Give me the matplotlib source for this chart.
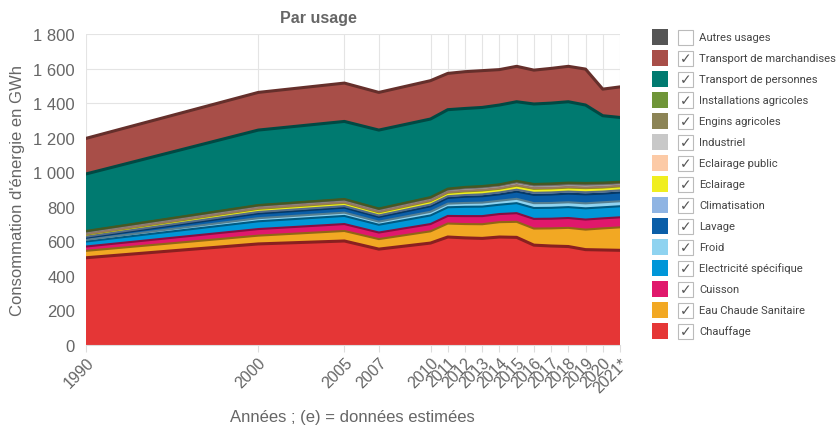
import matplotlib.pyplot as plt
import matplotlib.colors as mcolors
from matplotlib.patches import Rectangle
from matplotlib.ticker import FuncFormatter

plt.rcParams['font.family'] = ['Liberation Sans', 'DejaVu Sans']

years = [1990, 2000, 2005, 2007, 2010, 2011, 2012, 2013, 2014, 2015, 2016, 2017, 2018, 2019, 2020, 2021]
year_labels = ['1990', '2000', '2005', '2007', '2010', '2011', '2012', '2013', '2014', '2015',
               '2016', '2017', '2018', '2019', '2020', '2021*']

# stacked from bottom to top
chauffage = [505, 585, 602, 555, 590, 625, 620, 617, 625, 623, 578, 573, 570, 552, 550, 548]
ecs = [40, 48, 58, 58, 68, 78, 80, 82, 86, 90, 96, 102, 108, 116, 125, 133]
cuisson = [25, 38, 40, 38, 42, 44, 46, 47, 47, 50, 56, 56, 57, 58, 58, 58]
elec_specifique = [29, 45, 47, 45, 50, 50, 54, 55, 54, 58, 63, 63, 63, 65, 64, 64]
froid = [10, 18, 19, 18, 21, 21, 22, 23, 23, 25, 28, 28, 28, 29, 29, 29]
lavage = [12, 27, 29, 27, 32, 33, 36, 37, 37, 42, 48, 49, 50, 52, 50, 51]
climatisation = [6, 9, 9, 9, 10, 10, 10, 11, 11, 11, 12, 12, 12, 12, 12, 12]
eclairage = [12, 18, 19, 18, 20, 20, 21, 22, 21, 23, 23, 23, 23, 24, 23, 23]
eclairage_public = [4, 4, 4, 4, 4, 4, 4, 4, 4, 4, 4, 4, 4, 4, 4, 4]
industriel = [10, 11, 11, 11, 11, 12, 13, 13, 13, 14, 14, 14, 14, 15, 14, 13]
engins_agricoles = [5, 5, 5, 5, 5, 5, 6, 6, 6, 7, 7, 7, 7, 7, 7, 6]
install_agricoles = [2, 2, 2, 2, 3, 3, 3, 3, 3, 3, 3, 4, 4, 4, 4, 4]
transport_personnes = [330, 434, 449, 454, 452, 457, 454, 455, 459, 458, 463, 465, 468, 451, 387, 372]
transport_marchandises = [206, 218, 222, 218, 222, 210, 213, 213, 205, 205, 196, 201, 205, 208, 154, 177]

series = [chauffage, ecs, cuisson, elec_specifique, froid, lavage, climatisation, eclairage,
          eclairage_public, industriel, engins_agricoles, install_agricoles,
          transport_personnes, transport_marchandises]
colors = ['#e53636', '#f2a823', '#e0186c', '#0096d8', '#8fd3f0', '#0a5ea8', '#8fb4e3', '#f0ee20',
          '#fccaa6', '#c8c8c8', '#8c8456', '#6f9538', '#007a70', '#a84e48']

# legend order (top to bottom)
legend_labels = ['Autres usages', 'Transport de marchandises', 'Transport de personnes',
                 'Installations agricoles', 'Engins agricoles', 'Industriel', 'Eclairage public',
                 'Eclairage', 'Climatisation', 'Lavage', 'Froid', 'Electricité spécifique',
                 'Cuisson', 'Eau Chaude Sanitaire', 'Chauffage']
legend_colors = ['#555555'] + colors[::-1]
legend_checked = [False] + [True] * 14

fig = plt.figure(figsize=(8.4, 4.27), dpi=100)
ax = fig.add_axes([0.1024, 0.1897, 0.6357, 0.7283])

ax.stackplot(years, *series, colors=colors, linewidth=0)

# darker outline on top of each layer
top = [0] * len(years)
for i, (s, c) in enumerate(zip(series, colors)):
    top = [a + b for a, b in zip(top, s)]
    dark = tuple(v * 0.6 for v in mcolors.to_rgb(c))
    lw = 2.2 if i in (0, 12, 13) else 1.5
    ax.plot(years, top, color=dark, lw=lw, solid_joinstyle='round')

ax.set_xlim(1990, 2021)
ax.set_ylim(0, 1800)
ax.set_xticks(years)
ax.set_xticklabels(year_labels, rotation=45, ha='right', rotation_mode='anchor',
                   fontsize=11.5, color='#666666')
ax.set_yticks(range(0, 1801, 200))
ax.yaxis.set_major_formatter(FuncFormatter(lambda v, p: f'{int(v):,}'.replace(',', ' ')))
ax.tick_params(axis='y', length=0, labelsize=12, labelcolor='#666666', pad=8)
ax.tick_params(axis='x', length=5, color='#dddddd', pad=2)
ax.grid(True, color='#e4e4e4', lw=0.8)
ax.set_axisbelow(True)
for side in ['left', 'right', 'top']:
    ax.spines[side].set_visible(False)
ax.spines['bottom'].set_color('#dddddd')

ax.set_ylabel("Consommation d'énergie en GWh", fontsize=12, color='#666666', labelpad=6)
fig.text(352 / 840, 1 - 418 / 427, 'Années ; (e) = données estimées', ha='center', va='center',
         fontsize=12, color='#666666')
fig.text(318 / 840, 1 - 18 / 427, 'Par usage', ha='center', va='center', fontsize=11.5,
         fontweight='bold', color='#666666')

# custom legend with check boxes
W, H = 840, 427
for i, (lab, col, chk) in enumerate(zip(legend_labels, legend_colors, legend_checked)):
    yc = 38 + i * 21.0
    fig.patches.append(Rectangle((652 / W, 1 - (yc + 8) / H), 16 / W, 16 / H,
                                 transform=fig.transFigure, facecolor=col, edgecolor='none'))
    fig.patches.append(Rectangle((678 / W, 1 - (yc + 7.5) / H), 15 / W, 15 / H,
                                 transform=fig.transFigure, facecolor='white',
                                 edgecolor='#bbbbbb', lw=0.8))
    if chk:
        fig.text(685.5 / W, 1 - yc / H, '✓', ha='center', va='center', fontsize=10,
                 color='#555555', family='DejaVu Sans')
    fig.text(699 / W, 1 - yc / H, lab, ha='left', va='center', fontsize=8.1,
             color='#444444', family=['Roboto', 'DejaVu Sans'])

fig.savefig('out.png', dpi=100)
